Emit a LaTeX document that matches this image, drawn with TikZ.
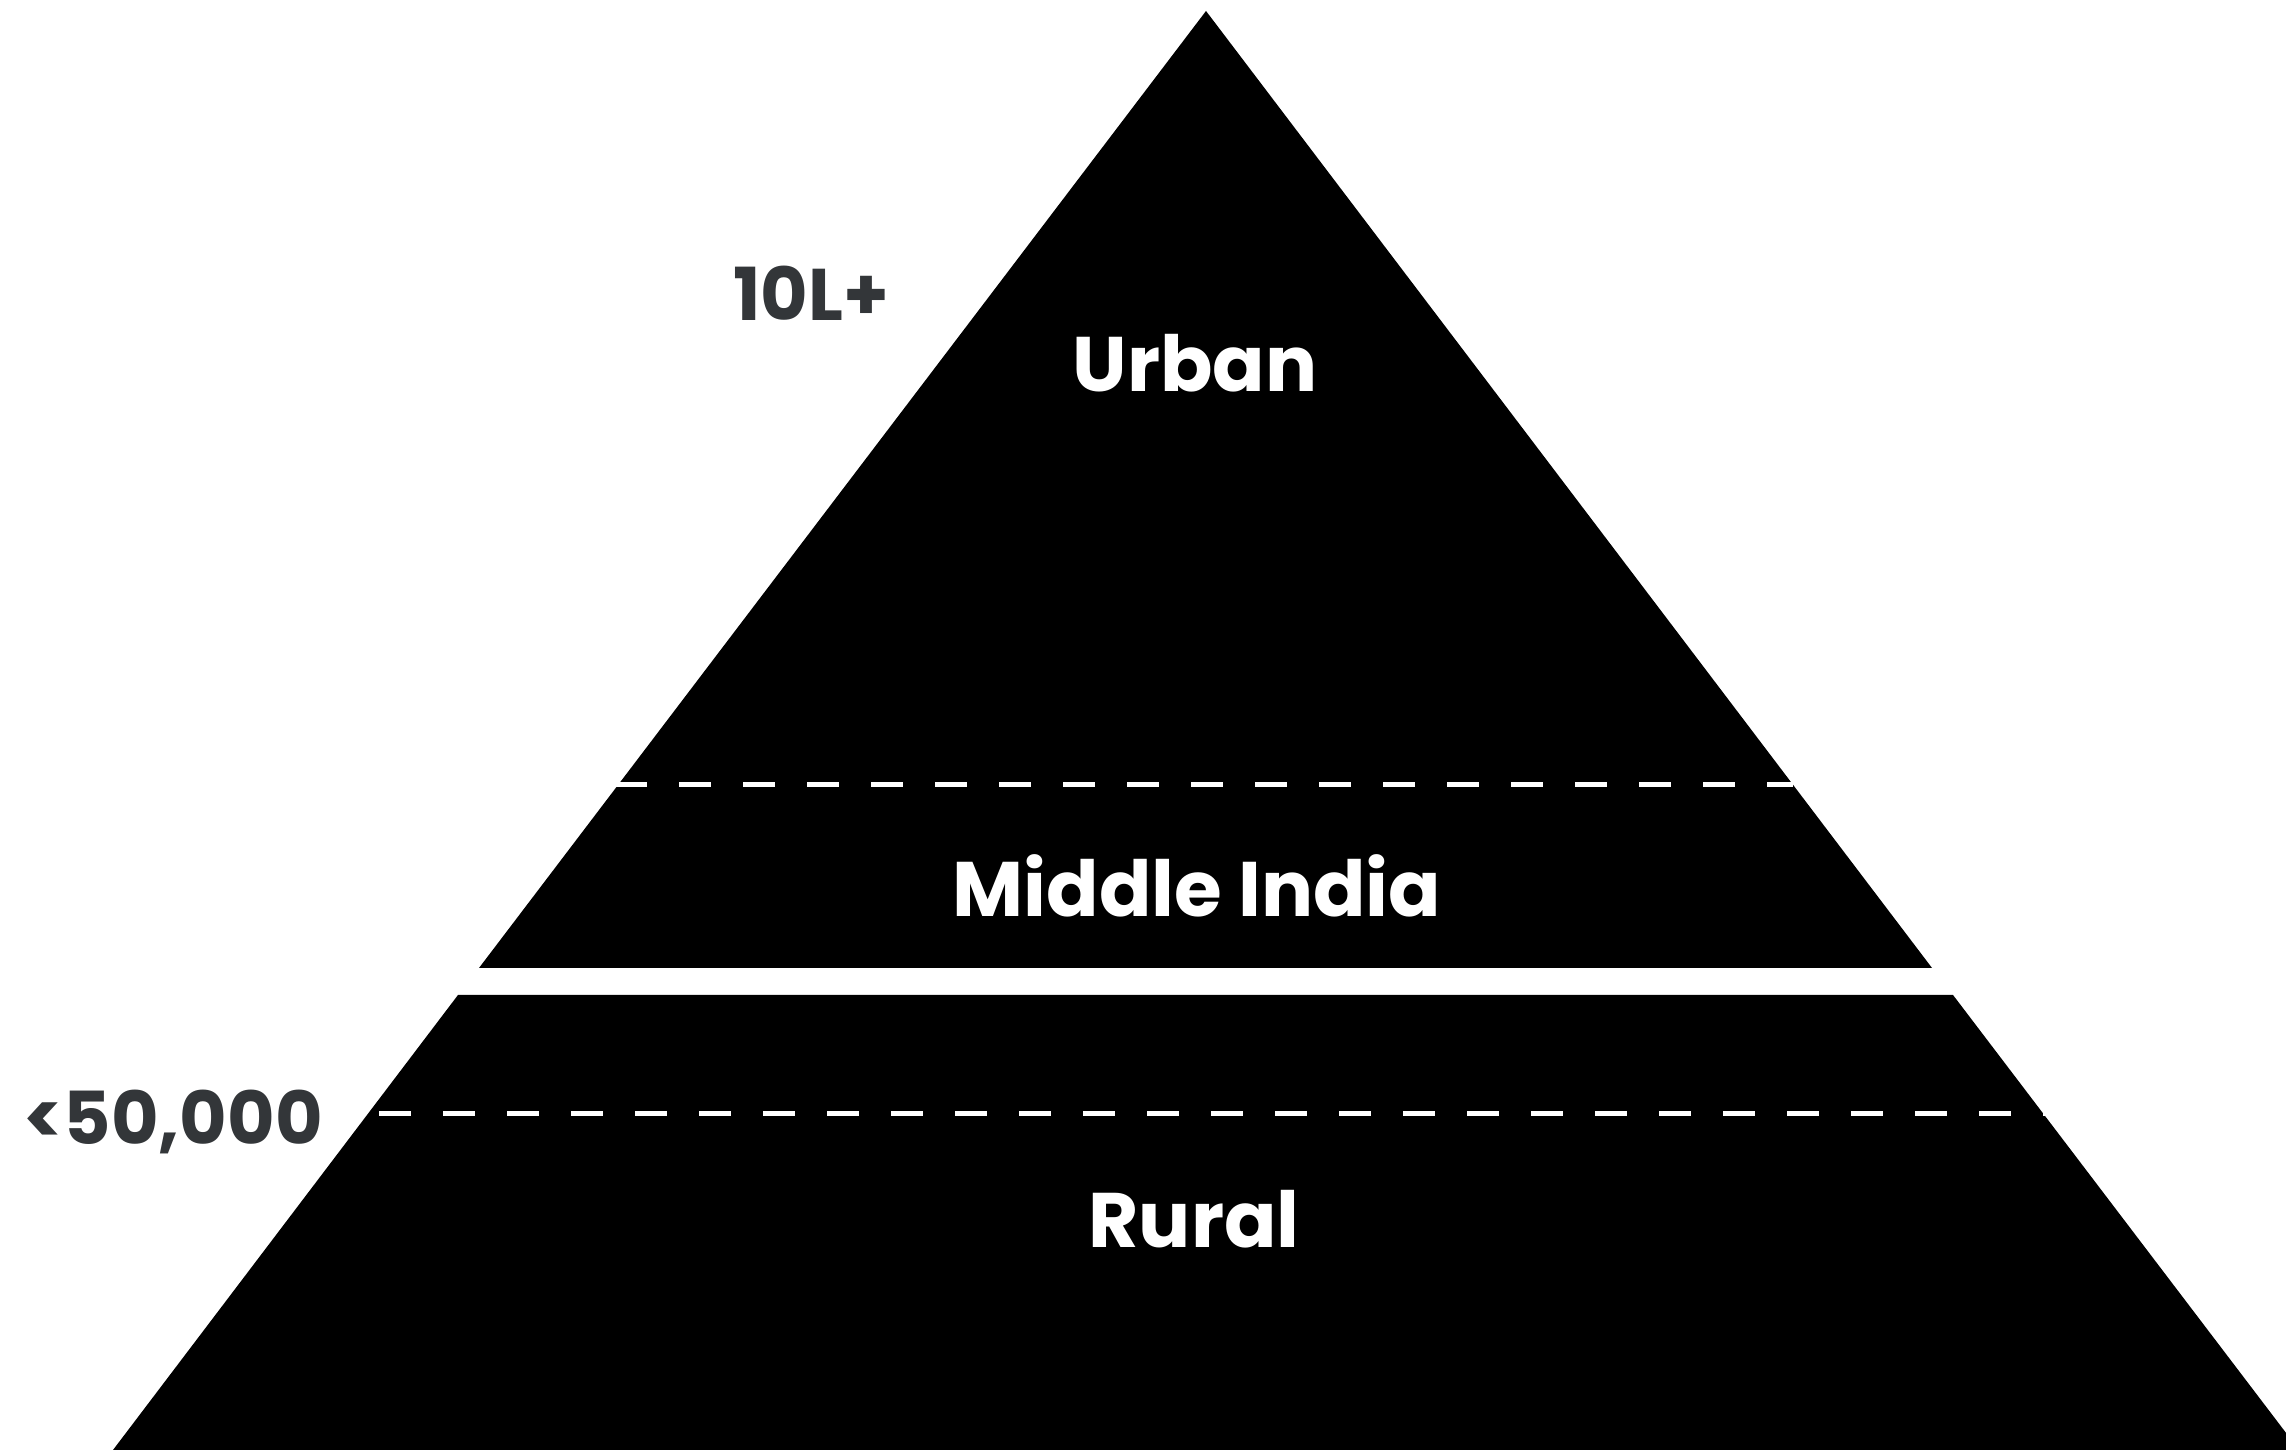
\documentclass[tikz,border=0pt]{standalone}
\usepackage{fontspec}
\setmainfont{Poppins}
\usetikzlibrary{positioning,calc}
\definecolor{incgray}{HTML}{333639}

\begin{document}
\begin{tikzpicture}[
    tier/.style={fill=black, draw=none},
    cut/.style={white, line width=1.42pt, dash pattern=on 0.32cm off 0.32cm},
    tierlabel/.style={text=white, font=\fontsize{22}{26}\selectfont\bfseries, anchor=base},
    income/.style={text=incgray, font=\fontsize{20.8}{24}\selectfont\bfseries, anchor=base},
]
\clip (0,0) rectangle (22.86,14.52);

% ====== Corners ======
\coordinate (apex) at (12.06,14.41);
\coordinate (topBL) at (4.79,4.84);
\coordinate (topBR) at (19.32,4.84);
\coordinate (lowTL) at (4.58,4.57);
\coordinate (lowTR) at (19.53,4.57);
\coordinate (lowBL) at (1.13,0.02);
\coordinate (lowBR) at (22.99,0.02);

% ====== Pyramid ======
\fill[tier] (apex) -- (topBR) -- (topBL) -- cycle;
\fill[tier] (lowTL) -- (lowTR) -- (lowBR) -- (lowBL) -- cycle;

% ====== Dashed cuts ======
\coordinate (urbL) at (6.15,6.67);
\coordinate (urbR) at (17.93,6.67);
\coordinate (rurL) at (3.79,3.38);
\coordinate (rurR) at (20.47,3.38);
\draw[cut] (urbL) -- (urbR);
\draw[cut] (rurL) -- (rurR);

% ====== Labels ======
\node[tierlabel] (urban) at (11.95,10.60) {Urban};
\node[tierlabel] (middle) at (11.97,5.35) {Middle India};
\node[tierlabel] (rural) at (11.94,2.04) {Rural};
\node[income] (top) at (8.11,11.31) {10L+};
\node[income] (low) at (1.73,3.07) {<50,000};

\end{tikzpicture}
\end{document}
